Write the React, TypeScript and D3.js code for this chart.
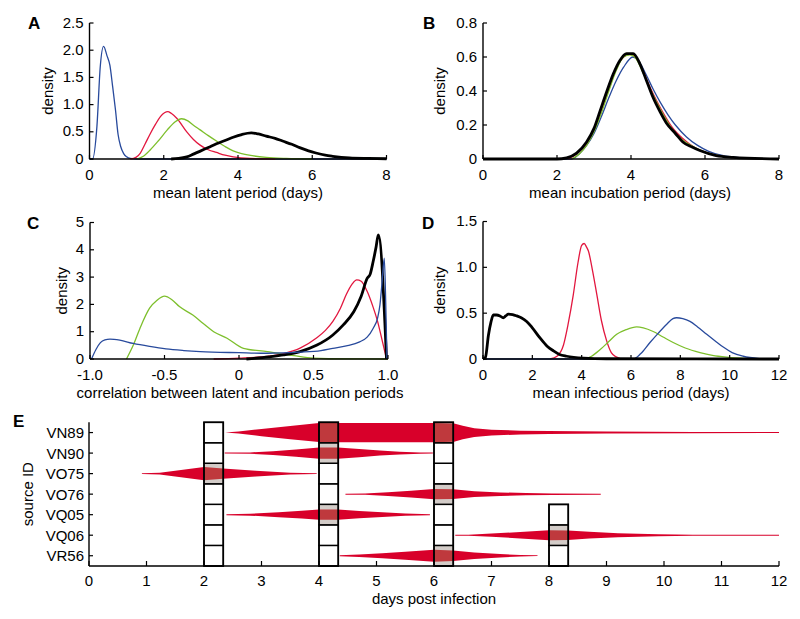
import React from 'react';
import * as d3 from 'd3';

type Pt = [number, number];

const FONT = "'Liberation Sans', Arial, Helvetica, sans-serif";
const FS = 15;
const BLUE = '#284a9c';
const RED = '#e2173f';
const GREEN = '#7dbf2c';
const BLACK = '#000000';
const VIOLIN = '#d8002a';
const VIOLIN_IN_CELL = '#bf393d';
const CELL_GRAY = '#d3ccc8';

// ---------- Panel A: mean latent period ----------
const latentBlue: Pt[] = [[0, 0], [0.08, 0], [0.2, 0.6], [0.29, 1.7], [0.38, 2.07], [0.47, 1.9], [0.55, 1.72], [0.62, 1.35], [0.7, 0.9], [0.77, 0.45], [0.84, 0.23], [0.92, 0.1], [1.0, 0.04], [1.1, 0.01], [1.3, 0], [8, 0]];
const latentRed: Pt[] = [[1.1, 0], [1.25, 0.03], [1.37, 0.11], [1.5, 0.28], [1.64, 0.47], [1.78, 0.64], [1.91, 0.78], [2.02, 0.85], [2.11, 0.87], [2.2, 0.84], [2.35, 0.75], [2.62, 0.5], [2.8, 0.36], [2.97, 0.26], [3.2, 0.17], [3.42, 0.12], [3.65, 0.07], [3.87, 0.04], [4.32, 0.01], [5, 0]];
const latentGreen: Pt[] = [[1.28, 0], [1.45, 0.05], [1.64, 0.17], [1.85, 0.33], [2.09, 0.53], [2.3, 0.68], [2.48, 0.74], [2.65, 0.7], [2.8, 0.62], [2.97, 0.54], [3.2, 0.43], [3.42, 0.33], [3.65, 0.23], [3.87, 0.15], [4.1, 0.1], [4.3, 0.07], [4.76, 0.03], [5.3, 0.01], [6, 0]];
const latentBlack: Pt[] = [[2.2, 0], [2.4, 0.01], [2.62, 0.04], [2.8, 0.09], [2.97, 0.14], [3.2, 0.21], [3.42, 0.28], [3.65, 0.34], [3.87, 0.4], [4.1, 0.45], [4.36, 0.48], [4.55, 0.46], [4.76, 0.42], [5.0, 0.38], [5.2, 0.33], [5.45, 0.27], [5.66, 0.21], [5.9, 0.15], [6.1, 0.11], [6.35, 0.07], [6.55, 0.05], [7.0, 0.02], [7.5, 0.01], [8, 0.005]];
const latentTicksX = [0, 2, 4, 6, 8];
const latentTicksY = [0, 0.5, 1, 1.5, 2, 2.5];

// ---------- Panel B: mean incubation period ----------
const incBlue: Pt[] = [[0, 0], [2.4, 0], [2.6, 0.03], [2.8, 0.08], [3.0, 0.15], [3.2, 0.25], [3.4, 0.36], [3.6, 0.46], [3.8, 0.54], [4.05, 0.6], [4.2, 0.58], [4.4, 0.5], [4.6, 0.41], [4.8, 0.33], [5.0, 0.26], [5.2, 0.2], [5.5, 0.13], [5.8, 0.08], [6.1, 0.045], [6.5, 0.02], [7, 0.007], [8, 0]];
const incRed: Pt[] = [[2.3, 0], [2.53, 0.03], [2.8, 0.09], [3.0, 0.17], [3.2, 0.29], [3.4, 0.41], [3.6, 0.53], [3.8, 0.6], [3.97, 0.615], [4.12, 0.6], [4.3, 0.53], [4.5, 0.43], [4.7, 0.34], [4.9, 0.26], [5.1, 0.19], [5.4, 0.12], [5.7, 0.07], [6.0, 0.04], [6.5, 0.015], [7, 0.005], [8, 0]];
const incGreen: Pt[] = [[2.4, 0], [2.6, 0.03], [2.8, 0.08], [3.0, 0.16], [3.2, 0.27], [3.4, 0.4], [3.6, 0.52], [3.8, 0.6], [3.97, 0.612], [4.1, 0.6], [4.3, 0.52], [4.5, 0.42], [4.7, 0.33], [4.9, 0.25], [5.1, 0.18], [5.4, 0.11], [5.7, 0.07], [6.0, 0.04], [6.5, 0.015], [7, 0.005], [8, 0]];
const incBlack: Pt[] = [[0, 0], [2, 0], [2.26, 0.007], [2.53, 0.035], [2.8, 0.1], [3.0, 0.18], [3.16, 0.28], [3.35, 0.4], [3.52, 0.5], [3.7, 0.58], [3.88, 0.62], [4.06, 0.62], [4.24, 0.56], [4.42, 0.46], [4.6, 0.36], [4.78, 0.28], [4.96, 0.21], [5.2, 0.15], [5.4, 0.1], [5.65, 0.07], [5.86, 0.05], [6.3, 0.02], [6.76, 0.01], [8, 0]];
const incTicksX = [0, 2, 4, 6, 8];
const incTicksY = [0, 0.2, 0.4, 0.6, 0.8];

// ---------- Panel C: correlation ----------
const corrBlue: Pt[] = [[-0.99, 0], [-0.96, 0.35], [-0.93, 0.6], [-0.9, 0.7], [-0.866, 0.73], [-0.8, 0.69], [-0.71, 0.57], [-0.6, 0.46], [-0.49, 0.37], [-0.37, 0.31], [-0.26, 0.27], [0, 0.23], [0.19, 0.21], [0.41, 0.25], [0.55, 0.31], [0.63, 0.39], [0.72, 0.48], [0.81, 0.63], [0.86, 0.8], [0.9, 1.12], [0.93, 1.5], [0.946, 1.98], [0.96, 2.8], [0.975, 3.69], [0.985, 2.0], [0.993, 0]];
const corrGreen: Pt[] = [[-0.755, 0], [-0.71, 0.5], [-0.665, 1.12], [-0.6, 1.86], [-0.55, 2.15], [-0.5, 2.3], [-0.45, 2.17], [-0.4, 1.92], [-0.31, 1.61], [-0.24, 1.3], [-0.17, 1.0], [-0.08, 0.76], [0.03, 0.39], [0.19, 0.27], [0.37, 0.12], [0.5, 0.03], [0.6, 0.01], [1, 0]];
const corrRed: Pt[] = [[-0.17, 0], [0.0, 0.03], [0.19, 0.1], [0.3, 0.2], [0.41, 0.4], [0.52, 0.77], [0.58, 1.05], [0.63, 1.38], [0.68, 1.85], [0.72, 2.36], [0.76, 2.75], [0.79, 2.9], [0.82, 2.85], [0.86, 2.48], [0.9, 1.9], [0.93, 1.38], [0.96, 0.7], [0.99, 0]];
const corrBlack: Pt[] = [[0.05, 0], [0.2, 0.08], [0.3, 0.15], [0.41, 0.27], [0.52, 0.5], [0.63, 0.88], [0.7, 1.25], [0.77, 1.73], [0.82, 2.3], [0.86, 2.95], [0.88, 3.1], [0.9, 3.56], [0.92, 4.1], [0.935, 4.55], [0.99, 0]];
const corrTicksX = [-1, -0.5, 0, 0.5, 1];
const corrTicksY = [0, 1, 2, 3, 4, 5];

// ---------- Panel D: mean infectious period ----------
const infBlack: Pt[] = [[0, 0], [0.1, 0.02], [0.22, 0.26], [0.32, 0.4], [0.42, 0.48], [0.55, 0.48], [0.69, 0.47], [0.82, 0.45], [0.92, 0.47], [1.03, 0.49], [1.2, 0.485], [1.37, 0.47], [1.55, 0.45], [1.77, 0.41], [2.0, 0.34], [2.31, 0.23], [2.6, 0.14], [2.85, 0.09], [3.1, 0.05], [3.39, 0.03], [4.07, 0.01], [5, 0.003], [12, 0]];
const infRed: Pt[] = [[2.72, 0], [3.0, 0.03], [3.26, 0.15], [3.45, 0.38], [3.66, 0.7], [3.85, 1.05], [4.0, 1.24], [4.1, 1.26], [4.2, 1.22], [4.27, 1.18], [4.45, 0.95], [4.61, 0.71], [4.8, 0.42], [5.01, 0.2], [5.2, 0.07], [5.42, 0.02], [5.6, 0]];
const infGreen: Pt[] = [[4.07, 0], [4.4, 0.03], [4.74, 0.1], [5.1, 0.19], [5.42, 0.27], [5.8, 0.32], [6.23, 0.35], [6.5, 0.34], [6.9, 0.3], [7.3, 0.24], [7.71, 0.18], [8.2, 0.12], [8.8, 0.07], [9.3, 0.04], [9.88, 0.02], [10.69, 0.005], [11.5, 0]];
const infBlue: Pt[] = [[0, 0], [6.1, 0], [6.4, 0.06], [6.77, 0.18], [7.1, 0.28], [7.45, 0.38], [7.7, 0.44], [7.85, 0.45], [8.1, 0.44], [8.39, 0.41], [8.7, 0.35], [9.07, 0.27], [9.4, 0.2], [9.74, 0.13], [10.1, 0.07], [10.55, 0.03], [11.2, 0.005], [11.5, 0]];
const infTicksX = [0, 2, 4, 6, 8, 10, 12];
const infTicksY = [0, 0.5, 1, 1.5];

// ---------- Panel E: source infection-time posteriors ----------
const sources = ['VN89', 'VN90', 'VO75', 'VO76', 'VQ05', 'VQ06', 'VR56'];
const violinVN89: Pt[] = [[2.37, 0], [2.6, 0.1], [3.0, 0.37], [3.5, 0.68], [4.0, 0.98], [4.3, 1], [5, 1], [6, 1], [6.35, 0.95], [6.5, 0.7], [6.7, 0.45], [7.0, 0.3], [7.5, 0.2], [8.0, 0.15], [9.0, 0.1], [10.5, 0.06], [12, 0.05]];
const violinVN90: Pt[] = [[2.36, 0.05], [2.8, 0.07], [3.2, 0.2], [3.6, 0.38], [4.0, 0.58], [4.33, 0.58], [4.7, 0.42], [5.06, 0.26], [5.4, 0.14], [5.76, 0.06], [5.98, 0.05]];
const violinVO75: Pt[] = [[0.92, 0.04], [1.23, 0.08], [1.6, 0.38], [2.0, 0.69], [2.33, 0.53], [2.9, 0.3], [3.5, 0.08], [3.96, 0.04]];
const violinVO76: Pt[] = [[4.46, 0.05], [4.8, 0.07], [5.2, 0.2], [5.6, 0.35], [6.0, 0.53], [6.33, 0.5], [6.7, 0.3], [7.15, 0.18], [7.6, 0.11], [8.05, 0.08], [8.9, 0.05]];
const violinVQ05: Pt[] = [[2.39, 0.05], [2.8, 0.1], [3.3, 0.26], [3.7, 0.4], [4.0, 0.53], [4.33, 0.53], [4.7, 0.38], [5.1, 0.24], [5.5, 0.12], [5.93, 0.05]];
const violinVQ06: Pt[] = [[6.37, 0.05], [6.6, 0.06], [7.0, 0.17], [7.5, 0.33], [8.0, 0.52], [8.33, 0.5], [8.7, 0.35], [9.2, 0.2], [9.9, 0.1], [10.5, 0.06], [12, 0.05]];
const violinVR56: Pt[] = [[4.36, 0.05], [4.7, 0.12], [5.1, 0.27], [5.5, 0.42], [6.0, 0.63], [6.33, 0.55], [6.7, 0.33], [7.15, 0.18], [7.5, 0.08], [7.8, 0.04]];
const violins = [violinVN89, violinVN90, violinVO75, violinVO76, violinVQ05, violinVQ06, violinVR56];
const boxDays = [2, 4, 6, 8];
const boxFirstSource = ['VN89', 'VN89', 'VN89', 'VQ05'];
const sampleWidthDays = 0.335;
const sampledSource = ['VO75', 'VN89', 'VN90', 'VQ05', 'VN89', 'VO76', 'VR56', 'VQ06'];
const sampledDay = [2, 4, 4, 4, 6, 6, 6, 8];
const dayTicks = [0, 1, 2, 3, 4, 5, 6, 7, 8, 9, 10, 11, 12];

const fmtDec = (d: number) => (d === 0 ? '0' : d.toFixed(1));
const fmtInt = (d: number) => String(d);

type Series = { data: Pt[]; color: string; width: number };

interface PanelProps {
  letter: string;
  letterX: number;
  letterY: number;
  xRange: [number, number];
  yRange: [number, number];
  xDomain: [number, number];
  yDomain: [number, number];
  xTicks: number[];
  yTicks: number[];
  xFmt: (d: number) => string;
  yFmt: (d: number) => string;
  xLabel: string;
  xLabelX: number;
  yLabelX: number;
  series: Series[];
}

function DensityPanel(p: PanelProps) {
  const x = d3.scaleLinear().domain(p.xDomain).range(p.xRange);
  const y = d3.scaleLinear().domain(p.yDomain).range(p.yRange);
  const line = d3.line<Pt>().x((d) => x(d[0])).y((d) => y(d[1])).curve(d3.curveMonotoneX);
  const x0 = p.xRange[0];
  const y0 = p.yRange[0];
  const yTop = p.yRange[1];
  const tick = 4;
  return (
    <g>
      <text x={p.letterX} y={p.letterY} fontFamily={FONT} fontWeight="bold" fontSize={17}>{p.letter}</text>
      {p.series.map((s, i) => (
        <path key={i} d={line(s.data) || ''} fill="none" stroke={s.color} strokeWidth={s.width} strokeLinejoin="round" />
      ))}
      <line x1={x0} x2={p.xRange[1]} y1={y0} y2={y0} stroke="#000" strokeWidth={1.4} />
      <line x1={x0} x2={x0} y1={y0} y2={yTop} stroke="#000" strokeWidth={1.4} />
      {p.xTicks.map((t) => (
        <g key={'x' + t}>
          <line x1={x(t)} x2={x(t)} y1={y0} y2={y0 - tick} stroke="#000" strokeWidth={1.2} />
          <text x={x(t)} y={y0 + 21} textAnchor="middle" fontFamily={FONT} fontSize={FS}>{p.xFmt(t)}</text>
        </g>
      ))}
      {p.yTicks.map((t) => (
        <g key={'y' + t}>
          <line x1={x0} x2={x0 + tick} y1={y(t)} y2={y(t)} stroke="#000" strokeWidth={1.2} />
          <text x={x0 - 6} y={y(t) + 4.5} textAnchor="end" fontFamily={FONT} fontSize={FS}>{p.yFmt(t)}</text>
        </g>
      ))}
      <text x={p.xLabelX} y={y0 + 39} textAnchor="middle" fontFamily={FONT} fontSize={FS}>{p.xLabel}</text>
      <text transform={`translate(${p.yLabelX},${(y0 + yTop) / 2}) rotate(-90)`} y={5} textAnchor="middle" fontFamily={FONT} fontSize={FS}>density</text>
    </g>
  );
}

function PanelE() {
  const x = d3.scaleLinear().domain([0, 12]).range([89, 779]);
  const yb = d3.scaleBand<string>().domain(sources).range([422.3, 566]);
  const bw = yb.bandwidth();
  const halfW = d3.scaleLinear().domain([0, 1]).range([0, bw * 0.47]);
  const axisY = 566;
  const makeArea = (c: number) =>
    d3.area<Pt>().x((d) => x(d[0])).y0((d) => c - halfW(d[1])).y1((d) => c + halfW(d[1])).curve(d3.curveLinear);
  const violinPaths = violins.map((v, i) => makeArea((yb(sources[i]) as number) + bw / 2)(v) || '');
  const cellW = x(sampleWidthDays) - x(0);
  return (
    <g>
      <text x={13} y={427} fontFamily={FONT} fontWeight="bold" fontSize={17}>E</text>
      <defs>
        {sampledSource.map((s, i) => (
          <clipPath key={i} id={'cell' + i}>
            <rect x={x(sampledDay[i])} y={yb(s) as number} width={cellW} height={bw} />
          </clipPath>
        ))}
      </defs>
      {boxDays.map((d, i) => {
        const top = yb(boxFirstSource[i]) as number;
        return <rect key={'bg' + i} x={x(d)} y={top} width={cellW} height={axisY - top} fill="#fff" />;
      })}
      {violinPaths.map((p, i) => (
        <path key={'v' + i} d={p} fill={VIOLIN} stroke="none" />
      ))}
      {sampledSource.map((s, i) => {
        const vi = sources.indexOf(s);
        return (
          <g key={'g' + i}>
            <rect x={x(sampledDay[i])} y={yb(s) as number} width={cellW} height={bw} fill={CELL_GRAY} />
            <g clipPath={`url(#cell${i})`}>
              <path d={violinPaths[vi]} fill={VIOLIN_IN_CELL} />
            </g>
          </g>
        );
      })}
      {boxDays.map((d, i) => {
        const first = sources.indexOf(boxFirstSource[i]);
        const rows = sources.slice(first);
        const top = yb(boxFirstSource[i]) as number;
        return (
          <g key={'box' + i}>
            {rows.map((r) => (
              <rect key={r} x={x(d)} y={yb(r) as number} width={cellW} height={bw} fill="none" stroke="#000" strokeWidth={1.3} />
            ))}
            <rect x={x(d)} y={top} width={cellW} height={axisY - top} fill="none" stroke="#000" strokeWidth={1.7} />
          </g>
        );
      })}
      <line x1={89} x2={779} y1={axisY} y2={axisY} stroke="#000" strokeWidth={1.4} />
      <line x1={89} x2={89} y1={axisY} y2={422.3} stroke="#000" strokeWidth={1.4} />
      {dayTicks.map((t) => (
        <g key={'xt' + t}>
          <line x1={x(t)} x2={x(t)} y1={axisY} y2={axisY - 5} stroke="#000" strokeWidth={1.2} />
          <text x={x(t)} y={axisY + 20} textAnchor="middle" fontFamily={FONT} fontSize={FS}>{t}</text>
        </g>
      ))}
      {sources.map((s) => {
        const c = (yb(s) as number) + bw / 2;
        return (
          <g key={'yt' + s}>
            <line x1={89} x2={93} y1={c} y2={c} stroke="#000" strokeWidth={1.2} />
            <text x={84} y={c + 5.5} textAnchor="end" fontFamily={FONT} fontSize={FS}>{s}</text>
          </g>
        );
      })}
      <text x={434} y={axisY + 38} textAnchor="middle" fontFamily={FONT} fontSize={FS}>days post infection</text>
      <text transform={`translate(28,${(422.3 + axisY) / 2}) rotate(-90)`} y={5} textAnchor="middle" fontFamily={FONT} fontSize={FS}>source ID</text>
    </g>
  );
}

export default function App() {
  const thin = 1.3;
  const thick = 2.8;
  return (
    <div style={{ position: 'absolute', left: 0, top: 0 }}>
      <svg width={800} height={619} viewBox="0 0 800 619" style={{ display: 'block', background: '#fff' }}>
        <rect x={0} y={0} width={800} height={619} fill="#fff" />
        <DensityPanel
          letter="A" letterX={28} letterY={29}
          xRange={[89.5, 386.5]} yRange={[159, 23]} xDomain={[0, 8]} yDomain={[0, 2.5]}
          xTicks={latentTicksX} yTicks={latentTicksY} xFmt={fmtInt} yFmt={fmtDec}
          xLabel="mean latent period (days)" xLabelX={238} yLabelX={48}
          series={[
            { data: latentBlue, color: BLUE, width: thin },
            { data: latentRed, color: RED, width: thin },
            { data: latentGreen, color: GREEN, width: thin },
            { data: latentBlack, color: BLACK, width: thick },
          ]}
        />
        <DensityPanel
          letter="B" letterX={423} letterY={29}
          xRange={[483, 779]} yRange={[159, 23]} xDomain={[0, 8]} yDomain={[0, 0.8]}
          xTicks={incTicksX} yTicks={incTicksY} xFmt={fmtInt} yFmt={fmtDec}
          xLabel="mean incubation period (days)" xLabelX={630} yLabelX={440}
          series={[
            { data: incBlue, color: BLUE, width: thin },
            { data: incRed, color: RED, width: thin },
            { data: incGreen, color: GREEN, width: thin },
            { data: incBlack, color: BLACK, width: thick },
          ]}
        />
        <DensityPanel
          letter="C" letterX={27} letterY={229}
          xRange={[90, 388]} yRange={[359, 222.5]} xDomain={[-1, 1]} yDomain={[0, 5]}
          xTicks={corrTicksX} yTicks={corrTicksY} xFmt={fmtDec} yFmt={fmtInt}
          xLabel="correlation between latent and incubation periods" xLabelX={240} yLabelX={62}
          series={[
            { data: corrGreen, color: GREEN, width: thin },
            { data: corrRed, color: RED, width: thin },
            { data: corrBlack, color: BLACK, width: thick },
            { data: corrBlue, color: BLUE, width: thin },
          ]}
        />
        <DensityPanel
          letter="D" letterX={422} letterY={229}
          xRange={[483, 779]} yRange={[359, 221.5]} xDomain={[0, 12]} yDomain={[0, 1.5]}
          xTicks={infTicksX} yTicks={infTicksY} xFmt={fmtInt} yFmt={fmtDec}
          xLabel="mean infectious period (days)" xLabelX={631} yLabelX={440}
          series={[
            { data: infRed, color: RED, width: thin },
            { data: infGreen, color: GREEN, width: thin },
            { data: infBlue, color: BLUE, width: thin },
            { data: infBlack, color: BLACK, width: thick },
          ]}
        />
        <PanelE />
      </svg>
    </div>
  );
}
